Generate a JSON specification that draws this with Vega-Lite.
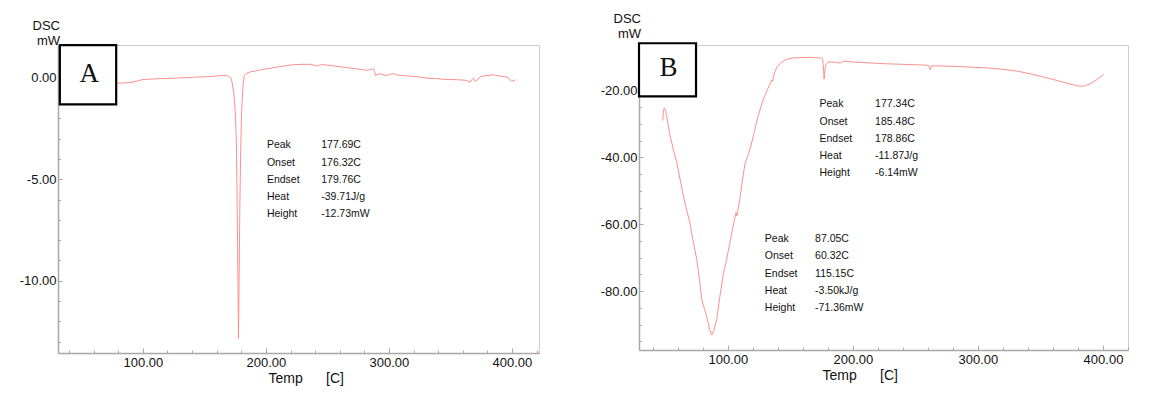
{
  "$schema": "https://vega.github.io/schema/vega-lite/v6.json",
  "background": "white",
  "padding": {"left": 18, "top": 12, "right": 5, "bottom": 5},
  "spacing": 59,
  "config": {
    "font": "Liberation Sans",
    "view": {"stroke": "#cccccc", "strokeWidth": 1},
    "axis": {
      "grid": false,
      "domainColor": "#a8a8a8",
      "domainWidth": 1.5,
      "tickColor": "#a8a8a8",
      "tickWidth": 1,
      "labelFont": "Liberation Sans",
      "labelFontSize": 13,
      "labelColor": "#111111",
      "labelOverlap": false,
      "labelFlush": false,
      "titleFont": "Liberation Sans",
      "titleFontSize": 14,
      "titleFontWeight": "normal",
      "titleColor": "#111111"
    }
  },
  "datasets": {
    "A": [
      {"temp": 77, "dsc": -0.27}, {"temp": 85, "dsc": -0.26}, {"temp": 92, "dsc": -0.22}, {"temp": 100, "dsc": -0.09},
      {"temp": 110, "dsc": -0.06}, {"temp": 127, "dsc": -0.02}, {"temp": 140, "dsc": 0.02}, {"temp": 155, "dsc": 0.06},
      {"temp": 165, "dsc": 0.11}, {"temp": 169.5, "dsc": 0.08}, {"temp": 171.5, "dsc": 0.0}, {"temp": 172.5, "dsc": -0.22},
      {"temp": 174, "dsc": -0.8}, {"temp": 175.2, "dsc": -1.8}, {"temp": 176, "dsc": -3.2}, {"temp": 176.5, "dsc": -5.5},
      {"temp": 177.1, "dsc": -9}, {"temp": 177.7, "dsc": -12.85}, {"temp": 178.2, "dsc": -10}, {"temp": 178.8, "dsc": -6.5},
      {"temp": 179.4, "dsc": -4}, {"temp": 180, "dsc": -2.2}, {"temp": 180.7, "dsc": -1.1}, {"temp": 181.4, "dsc": -0.4},
      {"temp": 182.4, "dsc": 0.11}, {"temp": 184, "dsc": 0.2}, {"temp": 187, "dsc": 0.28}, {"temp": 195, "dsc": 0.38},
      {"temp": 209, "dsc": 0.52}, {"temp": 222, "dsc": 0.64}, {"temp": 230, "dsc": 0.66}, {"temp": 236, "dsc": 0.66},
      {"temp": 239, "dsc": 0.62}, {"temp": 241.5, "dsc": 0.57}, {"temp": 244, "dsc": 0.63}, {"temp": 247, "dsc": 0.64},
      {"temp": 255, "dsc": 0.58}, {"temp": 263, "dsc": 0.52}, {"temp": 270, "dsc": 0.46}, {"temp": 277, "dsc": 0.41},
      {"temp": 282, "dsc": 0.36}, {"temp": 285, "dsc": 0.4}, {"temp": 287.5, "dsc": 0.44}, {"temp": 288.4, "dsc": 0.3},
      {"temp": 289, "dsc": 0.11}, {"temp": 293, "dsc": 0.2}, {"temp": 296, "dsc": 0.13}, {"temp": 298.4, "dsc": 0.11},
      {"temp": 301, "dsc": 0.17}, {"temp": 303.7, "dsc": 0.2}, {"temp": 308, "dsc": 0.12}, {"temp": 317, "dsc": 0.08},
      {"temp": 322, "dsc": 0.05}, {"temp": 331, "dsc": -0.02}, {"temp": 338, "dsc": -0.04}, {"temp": 344, "dsc": -0.08},
      {"temp": 355, "dsc": -0.1}, {"temp": 363, "dsc": -0.13}, {"temp": 366, "dsc": -0.22}, {"temp": 367.5, "dsc": -0.1},
      {"temp": 368.8, "dsc": -0.02}, {"temp": 370, "dsc": -0.16}, {"temp": 371.5, "dsc": -0.13}, {"temp": 374, "dsc": 0.03},
      {"temp": 378, "dsc": 0.1}, {"temp": 382, "dsc": 0.12}, {"temp": 385, "dsc": 0.15}, {"temp": 388, "dsc": 0.1},
      {"temp": 390.5, "dsc": 0.08}, {"temp": 394, "dsc": 0.05}, {"temp": 396, "dsc": 0.03}, {"temp": 398, "dsc": -0.08},
      {"temp": 400, "dsc": -0.18}, {"temp": 402.7, "dsc": -0.1}
    ],
    "B": [
      {"temp": 48, "dsc": -29}, {"temp": 48.6, "dsc": -26}, {"temp": 49.2, "dsc": -25.2}, {"temp": 50.2, "dsc": -25.8},
      {"temp": 51, "dsc": -27.5}, {"temp": 53.8, "dsc": -33.5}, {"temp": 57, "dsc": -38.5}, {"temp": 59.2, "dsc": -41.5},
      {"temp": 61.8, "dsc": -46.5}, {"temp": 65, "dsc": -52.5}, {"temp": 67.2, "dsc": -55.8}, {"temp": 69.8, "dsc": -59.8},
      {"temp": 72.5, "dsc": -65.5}, {"temp": 75.2, "dsc": -70.5}, {"temp": 77.5, "dsc": -77}, {"temp": 79.2, "dsc": -82.7},
      {"temp": 81.5, "dsc": -85.5}, {"temp": 83.2, "dsc": -87.7}, {"temp": 85.5, "dsc": -91.5}, {"temp": 87.2, "dsc": -93.1},
      {"temp": 88.5, "dsc": -92.2}, {"temp": 91.2, "dsc": -88.5}, {"temp": 93.5, "dsc": -82}, {"temp": 96.5, "dsc": -74.7},
      {"temp": 98.5, "dsc": -71.5}, {"temp": 100.5, "dsc": -67.8}, {"temp": 104, "dsc": -61}, {"temp": 106.6, "dsc": -56.5},
      {"temp": 107.2, "dsc": -57.5}, {"temp": 107.8, "dsc": -56.5}, {"temp": 109.8, "dsc": -52}, {"temp": 111.8, "dsc": -46.5},
      {"temp": 113.8, "dsc": -41.9}, {"temp": 116.5, "dsc": -38.9}, {"temp": 118.5, "dsc": -36.5}, {"temp": 120.5, "dsc": -33.5},
      {"temp": 124, "dsc": -28}, {"temp": 128.5, "dsc": -22.5}, {"temp": 132, "dsc": -19.5}, {"temp": 134.5, "dsc": -17.5},
      {"temp": 135.2, "dsc": -16.8}, {"temp": 136, "dsc": -17.2}, {"temp": 137, "dsc": -15}, {"temp": 139.2, "dsc": -13},
      {"temp": 143, "dsc": -11.6}, {"temp": 147.2, "dsc": -10.7}, {"temp": 152, "dsc": -10.3}, {"temp": 157.8, "dsc": -10.2},
      {"temp": 165, "dsc": -10.1}, {"temp": 170, "dsc": -10.2}, {"temp": 175.2, "dsc": -10.3}, {"temp": 176, "dsc": -11},
      {"temp": 176.6, "dsc": -14}, {"temp": 177, "dsc": -16.6}, {"temp": 177.6, "dsc": -14}, {"temp": 178.6, "dsc": -12.2},
      {"temp": 180, "dsc": -11.6}, {"temp": 183, "dsc": -11.4}, {"temp": 187, "dsc": -11.7}, {"temp": 190, "dsc": -11.8},
      {"temp": 192, "dsc": -11.4}, {"temp": 194, "dsc": -11.2}, {"temp": 196, "dsc": -11.4}, {"temp": 205, "dsc": -11.6},
      {"temp": 224.5, "dsc": -12.0}, {"temp": 240, "dsc": -12.2}, {"temp": 255, "dsc": -12.4}, {"temp": 260.5, "dsc": -12.5},
      {"temp": 261.8, "dsc": -13.8}, {"temp": 263.2, "dsc": -12.6}, {"temp": 280, "dsc": -12.8}, {"temp": 304.5, "dsc": -13.2},
      {"temp": 320, "dsc": -13.7}, {"temp": 331, "dsc": -14.2}, {"temp": 345, "dsc": -15.3}, {"temp": 357.8, "dsc": -16.5},
      {"temp": 370, "dsc": -17.7}, {"temp": 377, "dsc": -18.4}, {"temp": 382, "dsc": -18.8}, {"temp": 386, "dsc": -18.6},
      {"temp": 389.8, "dsc": -18.0}, {"temp": 395, "dsc": -16.8}, {"temp": 400.5, "dsc": -15.2}
    ],
    "boxA": [{"x1": 32.5, "x2": 78.3, "y1": 1.6, "y2": -1.31, "xc": 56.5, "yc": 0.16, "label": "A"}],
    "boxB": [{"x1": 29, "x2": 74.6, "y1": -5.9, "y2": -21.8, "xc": 52.5, "yc": -13.4, "label": "B"}],
    "annA": [
      {"x": 200.8, "y": -3.335, "text": "Peak"}, {"x": 200.8, "y": -4.187, "text": "Onset"}, {"x": 200.8, "y": -5.044, "text": "Endset"},
      {"x": 200.8, "y": -5.882, "text": "Heat"}, {"x": 200.8, "y": -6.7, "text": "Height"},
      {"x": 245, "y": -3.335, "text": "177.69C"}, {"x": 245, "y": -4.187, "text": "176.32C"}, {"x": 245, "y": -5.044, "text": "179.76C"},
      {"x": 245, "y": -5.882, "text": "-39.71J/g"}, {"x": 245, "y": -6.7, "text": "-12.73mW"}
    ],
    "annB": [
      {"x": 173.3, "y": -24.18, "text": "Peak"}, {"x": 173.3, "y": -29.46, "text": "Onset"}, {"x": 173.3, "y": -34.54, "text": "Endset"},
      {"x": 173.3, "y": -39.61, "text": "Heat"}, {"x": 173.3, "y": -44.69, "text": "Height"},
      {"x": 217.8, "y": -24.18, "text": "177.34C"}, {"x": 217.8, "y": -29.46, "text": "185.48C"}, {"x": 217.8, "y": -34.54, "text": "178.86C"},
      {"x": 217.8, "y": -39.61, "text": "-11.87J/g"}, {"x": 217.8, "y": -44.69, "text": "-6.14mW"},
      {"x": 129.6, "y": -64.48, "text": "Peak"}, {"x": 129.6, "y": -69.55, "text": "Onset"}, {"x": 129.6, "y": -74.84, "text": "Endset"},
      {"x": 129.6, "y": -79.91, "text": "Heat"}, {"x": 129.6, "y": -84.99, "text": "Height"},
      {"x": 169.8, "y": -64.48, "text": "87.05C"}, {"x": 169.8, "y": -69.55, "text": "60.32C"}, {"x": 169.8, "y": -74.84, "text": "115.15C"},
      {"x": 169.8, "y": -79.91, "text": "-3.50kJ/g"}, {"x": 169.8, "y": -84.99, "text": "-71.36mW"}
    ]
  },
  "hconcat": [
    {
      "width": 481,
      "height": 308,
      "title": {"text": ["DSC", "mW"], "anchor": "start", "frame": "group", "align": "right", "dx": 2, "fontSize": 13, "fontWeight": "normal", "lineHeight": 15, "offset": -4, "color": "#111111", "font": "Liberation Sans"},
      "resolve": {"axis": {"x": "independent", "y": "independent"}},
      "layer": [
        {
          "data": {"name": "A"},
          "mark": {"type": "line", "color": "#ff8f8f", "strokeWidth": 1, "clip": true},
          "encoding": {
            "x": {"field": "temp", "type": "quantitative", "scale": {"domain": [31, 422], "nice": false, "zero": false},
              "axis": {"orient": "bottom", "values": [100, 200, 300, 400], "format": ".2f", "labelOverlap": false,
                "tickSize": -5, "labelPadding": 8,
                "title": "Temp\u00a0\u00a0\u00a0\u00a0\u00a0\u00a0[C]", "titleAlign": "left", "titleX": 210, "titleY": 29, "titleBaseline": "alphabetic"}},
            "y": {"field": "dsc", "type": "quantitative", "scale": {"domain": [-13.56, 1.61], "nice": false, "zero": false},
              "axis": {"orient": "left", "values": [-10, -5, 0],
                "labelExpr": "replace(format(datum.value, '.2f'), '\u2212', '-')",
                "labelOverlap": false, "tickSize": -4, "labelPadding": 6, "title": null}}
          }
        },
        {
          "data": {"name": "annA"},
          "mark": {"type": "text", "align": "left", "baseline": "middle", "fontSize": 10.5, "color": "#111111", "font": "Liberation Sans"},
          "encoding": {
            "x": {"field": "x", "type": "quantitative",
              "axis": {"orient": "bottom", "values": [40, 60, 80, 120, 140, 160, 180, 220, 240, 260, 280, 320, 340, 360, 380, 420],
                "labels": false, "domain": false, "tickSize": -3, "title": null}},
            "y": {"field": "y", "type": "quantitative",
              "axis": {"orient": "left", "values": [-13, -12, -11, -9, -8, -7, -6, -4, -3, -2, -1, 1],
                "labels": false, "domain": false, "tickSize": -2.5, "title": null}},
            "text": {"field": "text"}
          }
        },
        {
          "data": {"name": "boxA"},
          "mark": {"type": "rect", "fill": "white", "stroke": "black", "strokeWidth": 2.2},
          "encoding": {
            "x": {"field": "x1", "type": "quantitative", "axis": null}, "x2": {"field": "x2"},
            "y": {"field": "y1", "type": "quantitative", "axis": null}, "y2": {"field": "y2"}
          }
        },
        {
          "data": {"name": "boxA"},
          "mark": {"type": "text", "font": "Liberation Serif", "fontSize": 27, "color": "#111111", "baseline": "middle", "align": "center"},
          "encoding": {
            "x": {"field": "xc", "type": "quantitative", "axis": null},
            "y": {"field": "yc", "type": "quantitative", "axis": null},
            "text": {"field": "label"}
          }
        }
      ]
    },
    {
      "width": 489,
      "height": 305,
      "title": {"text": ["DSC", "mW"], "anchor": "start", "frame": "group", "align": "right", "dx": 2, "fontSize": 13, "fontWeight": "normal", "lineHeight": 15, "offset": 1, "color": "#111111", "font": "Liberation Sans"},
      "resolve": {"axis": {"x": "independent", "y": "independent"}},
      "layer": [
        {
          "data": {"name": "B"},
          "mark": {"type": "line", "color": "#ff8f8f", "strokeWidth": 1, "clip": true},
          "encoding": {
            "x": {"field": "temp", "type": "quantitative", "scale": {"domain": [29, 420], "nice": false, "zero": false},
              "axis": {"orient": "bottom", "values": [100, 200, 300, 400], "format": ".2f", "labelOverlap": false,
                "tickSize": -5, "labelPadding": 8,
                "title": "Temp\u00a0\u00a0\u00a0\u00a0\u00a0\u00a0[C]", "titleAlign": "left", "titleX": 183, "titleY": 29, "titleBaseline": "alphabetic"}},
            "y": {"field": "dsc", "type": "quantitative", "scale": {"domain": [-97.6, -6.42], "nice": false, "zero": false},
              "axis": {"orient": "left", "values": [-80, -60, -40, -20],
                "labelExpr": "replace(format(datum.value, '.2f'), '\u2212', '-')",
                "labelOverlap": false, "tickSize": -4, "labelPadding": 6, "title": null}}
          }
        },
        {
          "data": {"name": "annB"},
          "mark": {"type": "text", "align": "left", "baseline": "middle", "fontSize": 10.5, "color": "#111111", "font": "Liberation Sans"},
          "encoding": {
            "x": {"field": "x", "type": "quantitative",
              "axis": {"orient": "bottom", "values": [40, 60, 80, 120, 140, 160, 180, 220, 240, 260, 280, 320, 340, 360, 380, 420],
                "labels": false, "domain": false, "tickSize": -3, "title": null}},
            "y": {"field": "y", "type": "quantitative",
              "axis": {"orient": "left", "values": [-95, -90, -85, -75, -70, -65, -55, -50, -45, -35, -30, -25, -15, -10],
                "labels": false, "domain": false, "tickSize": -2.5, "title": null}},
            "text": {"field": "text"}
          }
        },
        {
          "data": {"name": "boxB"},
          "mark": {"type": "rect", "fill": "white", "stroke": "black", "strokeWidth": 2.2, "clip": false},
          "encoding": {
            "x": {"field": "x1", "type": "quantitative", "axis": null}, "x2": {"field": "x2"},
            "y": {"field": "y1", "type": "quantitative", "axis": null}, "y2": {"field": "y2"}
          }
        },
        {
          "data": {"name": "boxB"},
          "mark": {"type": "text", "font": "Liberation Serif", "fontSize": 27, "color": "#111111", "baseline": "middle", "align": "center"},
          "encoding": {
            "x": {"field": "xc", "type": "quantitative", "axis": null},
            "y": {"field": "yc", "type": "quantitative", "axis": null},
            "text": {"field": "label"}
          }
        }
      ]
    }
  ]
}
